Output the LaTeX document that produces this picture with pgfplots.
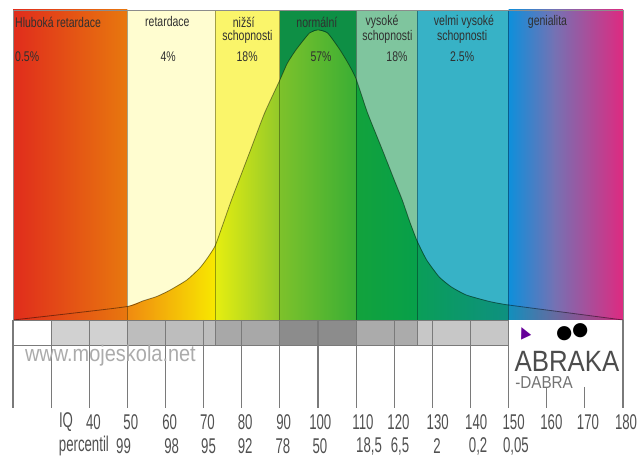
\documentclass[border=0pt]{standalone}
\usepackage{fontspec}
\setmainfont{Liberation Sans}
\newfontfamily\topf[FakeStretch=0.75]{Liberation Sans}
\newfontfamily\botf[FakeStretch=0.62]{Liberation Sans}
\newfontfamily\wmf[FakeStretch=0.88]{Liberation Sans}
\newfontfamily\symf{DejaVu Sans}
\usepackage{pgfplots}
\pgfplotsset{compat=1.18}
\definecolor{aRed}{HTML}{E02C1C}
\definecolor{aOrg}{HTML}{E8780E}
\definecolor{bTop}{HTML}{FFFDD0}
\definecolor{bL}{HTML}{F08A10}
\definecolor{bR}{HTML}{F8E800}
\definecolor{cTop}{HTML}{FAF56A}
\definecolor{cL}{HTML}{E6EE10}
\definecolor{cR}{HTML}{92C92A}
\definecolor{dTop}{HTML}{0E8F45}
\definecolor{dL}{HTML}{7DC22B}
\definecolor{dR}{HTML}{3AAE34}
\definecolor{eTop}{HTML}{7FC59E}
\definecolor{eL}{HTML}{12A23C}
\definecolor{eR}{HTML}{07A04A}
\definecolor{fTop}{HTML}{37B2C6}
\definecolor{fL}{HTML}{0A9E58}
\definecolor{fR}{HTML}{0E9080}
\definecolor{gBlue}{HTML}{0E8FDB}
\definecolor{gPur}{HTML}{7472B4}
\definecolor{gPink}{HTML}{DE2A80}
\definecolor{gLow}{HTML}{168FA8}
\definecolor{gLowR}{HTML}{C02C78}
\definecolor{txt}{HTML}{303030}
\definecolor{lbl}{HTML}{505050}
\definecolor{tickc}{HTML}{7A7A7A}
\begin{document}
\begin{tikzpicture}
\begin{axis}[scale only axis, width=478.5pt, height=344.25pt,
  xmin=16.59, xmax=183.93, ymin=-139, ymax=320,
  axis lines=none, clip=false, no markers]
% ---- background bands (above-curve colours)
\addplot[draw=none, left color=aRed, right color=aOrg] coordinates {(20,0) (50,0) (50,310) (20,310)} -- cycle;
\addplot[draw=none, fill=bTop] coordinates {(50,0) (73,0) (73,310) (50,310)} -- cycle;
\addplot[draw=none, fill=cTop] coordinates {(73,0) (90,0) (90,310) (73,310)} -- cycle;
\addplot[draw=none, fill=dTop] coordinates {(90,0) (110,0) (110,310) (90,310)} -- cycle;
\addplot[draw=none, fill=eTop] coordinates {(110,0) (126,0) (126,310) (110,310)} -- cycle;
\addplot[draw=none, fill=fTop] coordinates {(126,0) (150,0) (150,310) (126,310)} -- cycle;
\addplot[draw=none, left color=gBlue, right color=gPur] coordinates {(150,0) (162,0) (162,310) (150,310)} -- cycle;
\addplot[draw=none, left color=gPur, right color=gPink] coordinates {(161.9,0) (180,0) (180,310) (161.9,310)} -- cycle;
% ---- areas under the curve
\addplot[draw=none, left color=bL, right color=bR] coordinates {(50,0) (50,13.5) (54,19) (57.7,23.5) (61,29.5) (65.6,40) (69,52) (71,62) (73,74) (73,0)} -- cycle;
\addplot[draw=none, left color=cL, right color=cR] coordinates {(73,0) (73,74) (75,95) (77.3,120) (80,147) (82.3,170) (86,207) (90,240) (90,0)} -- cycle;
\addplot[draw=none, left color=dL, right color=dR] coordinates {(90,0) (90,240) (92,257) (94.4,271) (97.8,287) (100,290) (102.5,287) (105.6,271) (108,256) (110,241) (110,0)} -- cycle;
\addplot[draw=none, left color=eL, right color=eR] coordinates {(110,0) (110,241) (113,207) (116.9,170) (120,140) (122.1,120) (124,99) (126,79) (126,0)} -- cycle;
\addplot[draw=none, left color=fL, right color=fR] coordinates {(126,0) (126,79) (128.5,60) (131.8,43) (135,33) (138.9,25) (145,18.5) (150,15) (150,0)} -- cycle;
\addplot[draw=none, left color=gLow, right color=gLowR, opacity=0.6] coordinates {(150,0) (150,15) (165,7.5) (180,0)} -- cycle;
% ---- band dividers
\addplot[black, opacity=0.35, line width=0.6pt] coordinates {(50,0) (50,310)};
\addplot[black, opacity=0.35, line width=0.6pt] coordinates {(73,0) (73,310)};
\addplot[black, opacity=0.35, line width=0.6pt] coordinates {(90,0) (90,310)};
\addplot[black, opacity=0.35, line width=0.6pt] coordinates {(110,0) (110,310)};
\addplot[black, opacity=0.35, line width=0.6pt] coordinates {(126,0) (126,310)};
\addplot[black, opacity=0.35, line width=0.6pt] coordinates {(150,0) (150,310)};
% ---- the curve
\addplot[black, opacity=0.45, line width=0.6pt, smooth, tension=0.4] coordinates {(20,0) (35,6.5) (50,13.5) (54,19) (57.7,23.5) (61,29.5) (65.6,40) (69,52) (71,62) (73,74) (75,95) (77.3,120) (80,147) (82.3,170) (86,207) (90,240) (92,257) (94.4,271) (97.8,287) (100,290) (102.5,287) (105.6,271) (108,256) (110,241) (113,207) (116.9,170) (120,140) (122.1,120) (124,99) (126,79) (128.5,60) (131.8,43) (135,33) (138.9,25) (145,18.5) (150,15) (165,7.5) (180,0)};
% panel border
\addplot[black!45, line width=0.5pt] coordinates {(20,0) (20,310) (180,310) (180,0)};
% ---- grey strip
\addplot[draw=none, fill=white] coordinates {(20,0) (30,0) (30,-25) (20,-25)} -- cycle;
\addplot[draw=none, fill=black!18] coordinates {(30,0) (50,0) (50,-25) (30,-25)} -- cycle;
\addplot[draw=none, fill=black!26] coordinates {(50,0) (73,0) (73,-25) (50,-25)} -- cycle;
\addplot[draw=none, fill=black!34] coordinates {(73,0) (90,0) (90,-25) (73,-25)} -- cycle;
\addplot[draw=none, fill=black!45] coordinates {(90,0) (110,0) (110,-25) (90,-25)} -- cycle;
\addplot[draw=none, fill=black!33] coordinates {(110,0) (126,0) (126,-25) (110,-25)} -- cycle;
\addplot[draw=none, fill=black!22] coordinates {(126,0) (150,0) (150,-25) (126,-25)} -- cycle;
\addplot[tickc, line width=0.7pt] coordinates {(20,0) (150,0)};
\addplot[tickc, line width=0.7pt] coordinates {(20,-25) (150,-25)};
\addplot[tickc, line width=0.6pt] coordinates {(73,0) (73,-25)};
\addplot[tickc, line width=0.6pt] coordinates {(126,0) (126,-25)};
% ---- scale lines
\addplot[tickc, line width=0.8pt] coordinates {(20,0) (20,-88)};
\addplot[tickc, line width=0.8pt] coordinates {(30,0) (30,-88)};
\addplot[tickc, line width=0.8pt] coordinates {(40,0) (40,-88)};
\addplot[tickc, line width=0.8pt] coordinates {(50,0) (50,-88)};
\addplot[tickc, line width=0.8pt] coordinates {(60,0) (60,-88)};
\addplot[tickc, line width=0.8pt] coordinates {(70,0) (70,-88)};
\addplot[tickc, line width=0.8pt] coordinates {(80,0) (80,-88)};
\addplot[tickc, line width=0.8pt] coordinates {(90,0) (90,-88)};
\addplot[tickc, line width=0.8pt] coordinates {(100,0) (100,-88)};
\addplot[tickc, line width=0.8pt] coordinates {(110,0) (110,-88)};
\addplot[tickc, line width=0.8pt] coordinates {(120,0) (120,-88)};
\addplot[tickc, line width=0.8pt] coordinates {(130,0) (130,-88)};
\addplot[tickc, line width=0.8pt] coordinates {(140,0) (140,-88)};
\addplot[tickc, line width=0.8pt] coordinates {(150,0) (150,-88)};
\addplot[tickc, line width=0.8pt] coordinates {(160,-67) (160,-88)};
\addplot[tickc, line width=0.8pt] coordinates {(170,-67) (170,-88)};
\addplot[tickc, line width=0.8pt] coordinates {(180,0) (180,-88)};
% ---- band texts
\def\tfnt{\topf\fontsize{10.5}{12}\selectfont}
\node[font=\tfnt, text=txt, anchor=west, inner sep=0] at (axis cs:20.5,298) {Hluboká retardace};
\node[font=\tfnt, text=txt, anchor=west, inner sep=0] at (axis cs:20.5,263) {0.5\%};
\node[font=\tfnt, text=txt, inner sep=0] at (axis cs:60.5,298) {retardace};
\node[font=\tfnt, text=txt, inner sep=0] at (axis cs:60.7,263) {4\%};
\node[font=\tfnt, text=txt, inner sep=0] at (axis cs:80.5,298) {nižší};
\node[font=\tfnt, text=txt, inner sep=0] at (axis cs:81.5,283) {schopnosti};
\node[font=\tfnt, text=txt, inner sep=0] at (axis cs:81.4,263) {18\%};
\node[font=\tfnt, text=txt, inner sep=0] at (axis cs:99.7,298) {normální};
\node[font=\tfnt, text=txt, inner sep=0] at (axis cs:100.8,263) {57\%};
\node[font=\tfnt, text=txt, inner sep=0] at (axis cs:116.8,298) {vysoké};
\node[font=\tfnt, text=txt, inner sep=0] at (axis cs:118.2,283) {schopnosti};
\node[font=\tfnt, text=txt, inner sep=0] at (axis cs:120.7,263) {18\%};
\node[font=\tfnt, text=txt, inner sep=0] at (axis cs:138.3,298) {velmi vysoké};
\node[font=\tfnt, text=txt, inner sep=0] at (axis cs:137.8,283) {schopnosti};
\node[font=\tfnt, text=txt, inner sep=0] at (axis cs:137.8,263) {2.5\%};
\node[font=\tfnt, text=txt, inner sep=0] at (axis cs:160.2,298) {genialita};
% ---- watermark and logo
\node[font=\wmf\fontsize{17}{17}\selectfont, text=black!33, anchor=west, inner sep=0] at (axis cs:23.1,-36) {www.mojeskola.net};
\node[font=\symf\fontsize{14}{14}\selectfont, text=black, inner sep=0] at (axis cs:164.6,-14) {●};
\node[font=\symf\fontsize{14}{14}\selectfont, text=black, inner sep=0] at (axis cs:168.8,-11) {●};
\node[font=\symf\fontsize{11}{11}\selectfont, text=violet!80!blue, inner sep=0, rotate=25] at (axis cs:154.0,-13) {▲};
\node[font=\wmf\fontsize{22}{22}\selectfont, text=black!70, inner sep=0] at (axis cs:165.3,-41) {ABRAKA};
\node[font=\wmf\fontsize{13}{13}\selectfont, text=black!55, inner sep=0] at (axis cs:159.3,-63) {-DABRA};
% ---- bottom labels
\def\bfnt{\botf\fontsize{16}{16}\selectfont}
\node[font=\bfnt, text=lbl, inner sep=0] at (axis cs:33.9,-102) {IQ};
\node[font=\bfnt, text=lbl, inner sep=0] at (axis cs:41.1,-102) {40};
\node[font=\bfnt, text=lbl, inner sep=0] at (axis cs:50.9,-102) {50};
\node[font=\bfnt, text=lbl, inner sep=0] at (axis cs:61.1,-102) {60};
\node[font=\bfnt, text=lbl, inner sep=0] at (axis cs:71.0,-102) {70};
\node[font=\bfnt, text=lbl, inner sep=0] at (axis cs:80.9,-102) {80};
\node[font=\bfnt, text=lbl, inner sep=0] at (axis cs:91.0,-102) {90};
\node[font=\bfnt, text=lbl, inner sep=0] at (axis cs:100.6,-102) {100};
\node[font=\bfnt, text=lbl, inner sep=0] at (axis cs:111.8,-102) {110};
\node[font=\bfnt, text=lbl, inner sep=0] at (axis cs:121.1,-102) {120};
\node[font=\bfnt, text=lbl, inner sep=0] at (axis cs:131.4,-102) {130};
\node[font=\bfnt, text=lbl, inner sep=0] at (axis cs:141.5,-102) {140};
\node[font=\bfnt, text=lbl, inner sep=0] at (axis cs:151.3,-102) {150};
\node[font=\bfnt, text=lbl, inner sep=0] at (axis cs:161.2,-102) {160};
\node[font=\bfnt, text=lbl, inner sep=0] at (axis cs:170.8,-102) {170};
\node[font=\bfnt, text=lbl, inner sep=0] at (axis cs:180.8,-102) {180};
\node[font=\bfnt, text=lbl, inner sep=0] at (axis cs:38.6,-126) {percentil};
\node[font=\bfnt, text=lbl, inner sep=0] at (axis cs:49.0,-126) {99};
\node[font=\bfnt, text=lbl, inner sep=0] at (axis cs:61.6,-126) {98};
\node[font=\bfnt, text=lbl, inner sep=0] at (axis cs:71.3,-126) {95};
\node[font=\bfnt, text=lbl, inner sep=0] at (axis cs:80.9,-126) {92};
\node[font=\bfnt, text=lbl, inner sep=0] at (axis cs:90.8,-126) {78};
\node[font=\bfnt, text=lbl, inner sep=0] at (axis cs:100.5,-126) {50};
\node[font=\bfnt, text=lbl, inner sep=0] at (axis cs:113.4,-126) {18,5};
\node[font=\bfnt, text=lbl, inner sep=0] at (axis cs:121.5,-126) {6,5};
\node[font=\bfnt, text=lbl, inner sep=0] at (axis cs:131.2,-126) {2};
\node[font=\bfnt, text=lbl, inner sep=0] at (axis cs:142.0,-126) {0,2};
\node[font=\bfnt, text=lbl, inner sep=0] at (axis cs:151.9,-126) {0,05};
\end{axis}
\pgfresetboundingbox
\path (current axis.south west) rectangle (current axis.north east);
\end{tikzpicture}
\end{document}
